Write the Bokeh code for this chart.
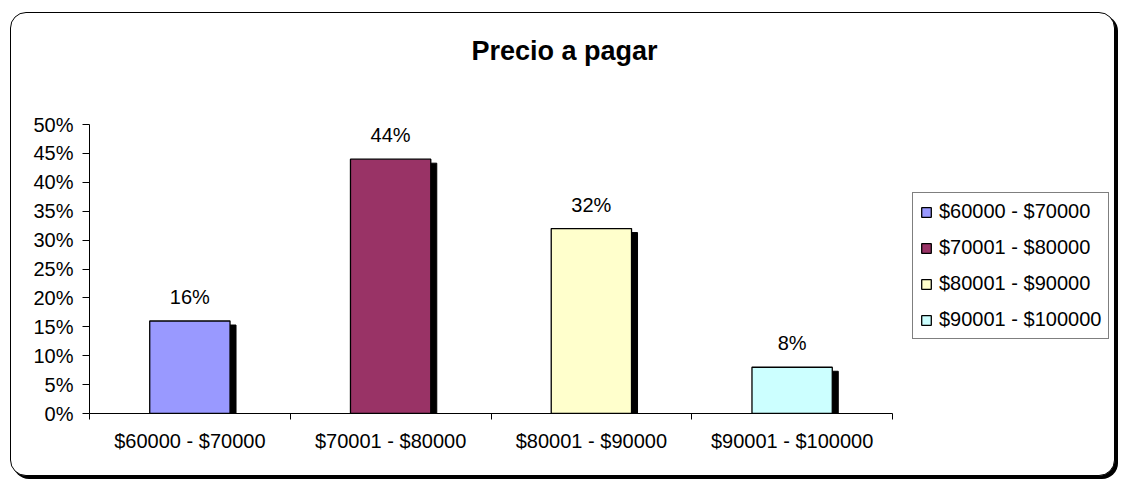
from bokeh.plotting import figure
from bokeh.models import (ColumnDataSource, Range1d, FixedTicker, NumeralTickFormatter,
                          LabelSet, Label, Legend, LegendItem)
from bokeh.core.properties import value
from bokeh.transform import dodge
from bokeh.embed import file_html
from bokeh.resources import INLINE

# ---- data ----
categories = ["$60000 - $70000", "$70001 - $80000", "$80001 - $90000", "$90001 - $100000"]
values = [0.16, 0.44, 0.32, 0.08]
colors = ["#9999FF", "#993366", "#FFFFCC", "#CCFFFF"]
y_ticks = [0.0, 0.05, 0.10, 0.15, 0.20, 0.25, 0.30, 0.35, 0.40, 0.45, 0.50]
y_max = 0.5
title_text = "Precio a pagar"

FONT = "Liberation Sans"
n = len(categories)

# ---- layout (page pixels) ----
CANVAS_W, CANVAS_H = 1105, 464
CANVAS_X0, CANVAS_Y0 = 11, 13          # page position of canvas top-left
AX_L, AX_R, AX_T, AX_B = 89, 892, 124, 413   # page position of axis box
LEFT_BORDER = AX_L - CANVAS_X0
BOTTOM_BORDER = CANVAS_Y0 + CANVAS_H - AX_B


def px_x(px):
    return (px - AX_L) / (AX_R - AX_L) * n


def px_y(py):
    return (AX_B - py) / (AX_B - AX_T) * y_max


xs = [i + 0.5 for i in range(n)]
labels = [f"{round(v * 100)}%" for v in values]
shadow_dy = px_y(AX_B - 4) - px_y(AX_B)
shadow_top = [v - shadow_dy for v in values]

src = ColumnDataSource(dict(x=xs, top=values, cat=categories, color=colors,
                            label=labels, stop=shadow_top))

p = figure(width=CANVAS_W, height=CANVAS_H, output_backend="svg", toolbar_location=None,
           x_range=Range1d(0, px_x(CANVAS_X0 + CANVAS_W)),
           y_range=Range1d(0, px_y(CANVAS_Y0)),
           min_border=0, min_border_left=LEFT_BORDER, min_border_right=0,
           min_border_top=0, min_border_bottom=BOTTOM_BORDER, tools="", title=None)
p.styles = {"margin-left": "10px", "margin-top": "12px", "border": "1px solid black",
            "border-radius": "16px", "box-shadow": "3px 3px 0px 0px black",
            "overflow": "hidden", "background-color": "white"}
p.border_fill_color = None
p.background_fill_color = None
p.outline_line_color = None
p.xgrid.visible = False
p.ygrid.visible = False

# shadows
p.vbar(x=dodge("x", px_x(AX_L + 6)), top="stop", bottom=0, width=0.4, source=src,
       fill_color="black", line_color="black")
bars = p.vbar(x="x", top="top", bottom=0, width=0.4, source=src,
              fill_color="color", line_color="black", line_width=1.3)

# axes
ya = p.yaxis[0]
ya.bounds = (0, y_max)
ya.ticker = FixedTicker(ticks=y_ticks)
ya.formatter = NumeralTickFormatter(format="0%")
ya.major_tick_out = 7
ya.major_tick_in = 0
ya.minor_tick_line_color = None
ya.major_label_standoff = 9
ya.major_label_text_font = FONT
ya.major_label_text_font_size = "20px"
ya.major_label_text_color = "black"
ya.axis_line_color = "black"
ya.major_tick_line_color = "black"

xa = p.xaxis[0]
xa.bounds = (0, n)
xa.ticker = FixedTicker(ticks=xs, minor_ticks=list(range(n + 1)))
xa.major_label_overrides = {x: c for x, c in zip(xs, categories)}
xa.major_tick_line_color = None
xa.major_tick_out = 6
xa.major_tick_in = 0
xa.minor_tick_out = 6
xa.minor_tick_in = 0
xa.minor_tick_line_color = "black"
xa.major_label_standoff = 10
xa.major_label_text_font = FONT
xa.major_label_text_font_size = "20px"
xa.major_label_text_color = "black"
xa.axis_line_color = "black"

# value labels
p.add_layout(LabelSet(x="x", y="top", text="label", source=src, y_offset=24,
                      text_align="center", text_baseline="middle",
                      text_font=value(FONT), text_font_size="20px", text_color="black"))

# title
p.add_layout(Label(x=px_x(564), y=px_y(50), text=title_text,
                   text_align="center", text_baseline="middle", text_font=FONT,
                   text_font_size="27px", text_font_style="bold", text_color="black"))

# legend
items = [LegendItem(label=c, renderers=[bars], index=i) for i, c in enumerate(categories)]
leg = Legend(items=items, location=(912 - AX_L, AX_B - 339), glyph_width=12, glyph_height=12,
             label_standoff=7, label_height=20, spacing=13, padding=7, margin=0,
             label_text_font=FONT, label_text_font_size="20px", label_text_color="black",
             border_line_color="black", border_line_width=1,
             background_fill_color="white", background_fill_alpha=1)
p.add_layout(leg, "center")

open("out.html", "w").write(file_html(p, INLINE))
